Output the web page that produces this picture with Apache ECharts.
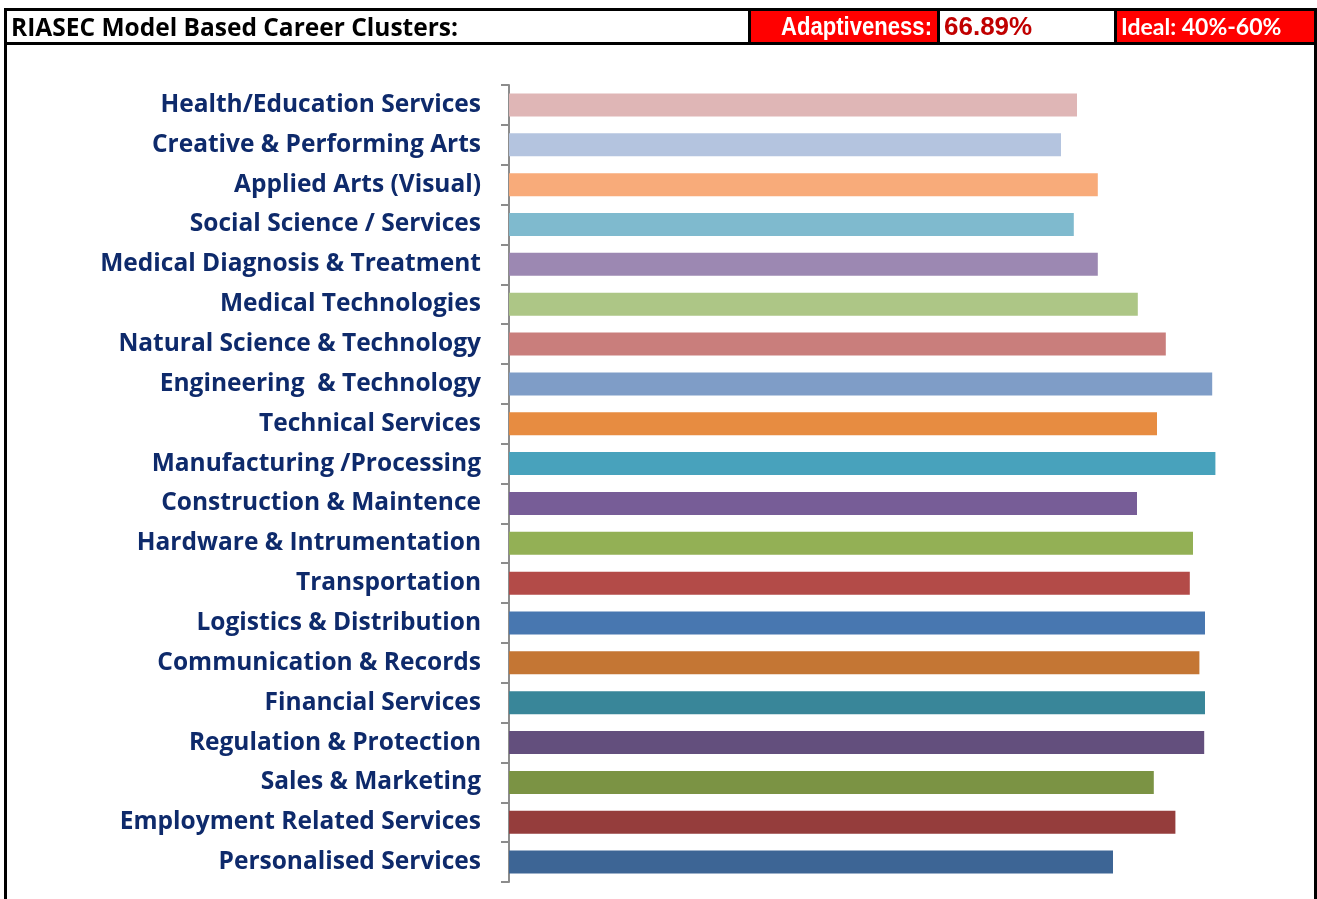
<!DOCTYPE html>
<html lang="en">
	<head>
		<meta charset="UTF-8" />
		<title>RIASEC Career Clusters</title>
		<script src="https://cdn.jsdelivr.net/npm/echarts@6/dist/echarts.min.js"></script>
		<style>
			html, body { margin: 0; padding: 0; background: #fff; }
		</style>
	</head>
	<body>
		<div id="main" style="width: 1317px; height: 899px"></div>
		<script type="text/javascript">
			// categories, top to bottom
			const clusters = [
				"Health/Education Services",
				"Creative & Performing Arts",
				"Applied Arts (Visual)",
				"Social Science / Services",
				"Medical Diagnosis & Treatment",
				"Medical Technologies",
				"Natural Science & Technology",
				"Engineering  & Technology",
				"Technical Services",
				"Manufacturing /Processing",
				"Construction & Maintence",
				"Hardware & Intrumentation",
				"Transportation",
				"Logistics & Distribution",
				"Communication & Records",
				"Financial Services",
				"Regulation & Protection",
				"Sales & Marketing",
				"Employment Related Services",
				"Personalised Services",
			];
			// estimated scores (%)
			const scores = [
				71.0, 69.0, 73.6, 70.6, 73.6, 78.6, 82.1, 87.9, 81.0, 88.3,
				78.5, 85.5, 85.1, 87.0, 86.3, 87.0, 86.9, 80.6, 83.3, 75.5,
			];
			const barColors = [
				"#dfb6b6", "#b4c4df", "#f8ab7a", "#7fbace", "#9c88b2",
				"#adc686", "#c97e7c", "#7f9dc7", "#e78c41", "#48a2bc",
				"#775d97", "#93b055", "#b34b48", "#4877b0", "#c47634",
				"#398699", "#634f7d", "#7b9344", "#953d3c", "#3d6595",
			];
			const headerTitle = "RIASEC Model Based Career Clusters:";
			const adaptiveness = "66.89%";
			const ideal = "Ideal: 40%-60%";

			const narrow = "bold 26px 'Liberation Sans Narrow', 'Arial Narrow', 'Liberation Sans'";

			const chart = echarts.init(document.getElementById("main"));
			chart.setOption({
				animation: false,
				grid: { left: 509, right: 8, top: 85, bottom: 17 },
				xAxis: {
					type: "value",
					min: 0,
					max: 100,
					show: false,
				},
				yAxis: {
					type: "category",
					inverse: true,
					data: clusters,
					axisLine: { show: true, lineStyle: { color: "#8c8c8c", width: 2 } },
					axisTick: { show: true, length: 8, lineStyle: { color: "#8c8c8c", width: 2 } },
					axisLabel: {
						margin: 28,
						padding: [8, 0, 0, 0],
						fontFamily: "Open Sans",
						fontWeight: "bold",
						fontSize: 24.5,
						color: "#0e2a6b",
					},
				},
				series: [
					{
						type: "bar",
						barWidth: 23,
						data: scores.map((v, i) => ({
							value: v,
							itemStyle: { color: barColors[i] },
						})),
					},
				],
				graphic: [
					// red header cells
					{ type: "rect", shape: { x: 751, y: 11, width: 186, height: 31 }, style: { fill: "#ff0000" } },
					{ type: "rect", shape: { x: 1117, y: 11, width: 198, height: 31 }, style: { fill: "#ff0000" } },
					// outer frame and header lines
					{
						type: "rect",
						shape: { x: 5.5, y: 9.5, width: 1310, height: 960 },
						style: { fill: null, stroke: "#000", lineWidth: 3 },
					},
					{ type: "line", shape: { x1: 5, y1: 43.5, x2: 1316, y2: 43.5 }, style: { stroke: "#000", lineWidth: 3 } },
					{ type: "line", shape: { x1: 749.5, y1: 9, x2: 749.5, y2: 44 }, style: { stroke: "#000", lineWidth: 3 } },
					{ type: "line", shape: { x1: 938.5, y1: 9, x2: 938.5, y2: 44 }, style: { stroke: "#000", lineWidth: 3 } },
					{ type: "line", shape: { x1: 1115.5, y1: 9, x2: 1115.5, y2: 44 }, style: { stroke: "#000", lineWidth: 3 } },
					// header texts
					{
						type: "text",
						x: 11,
						y: 29,
						style: {
							text: headerTitle,
							font: "bold 24.5px 'Open Sans'",
							fill: "#000",
							verticalAlign: "middle",
						},
					},
					{
						type: "text",
						x: 932,
						y: 28,
						scaleX: 0.85,
						style: {
							text: "Adaptiveness:",
							font: narrow,
							fill: "#fff",
							align: "right",
							verticalAlign: "middle",
						},
					},
					{
						type: "text",
						x: 944,
						y: 28,
						style: {
							text: adaptiveness,
							font: narrow,
							fill: "#c00000",
							verticalAlign: "middle",
						},
					},
					{
						type: "text",
						x: 1121,
						y: 28,
						style: {
							text: ideal,
							font: "bold 23px Lato",
							fill: "#fff",
							verticalAlign: "middle",
						},
					},
				],
			});
		</script>
	</body>
</html>
